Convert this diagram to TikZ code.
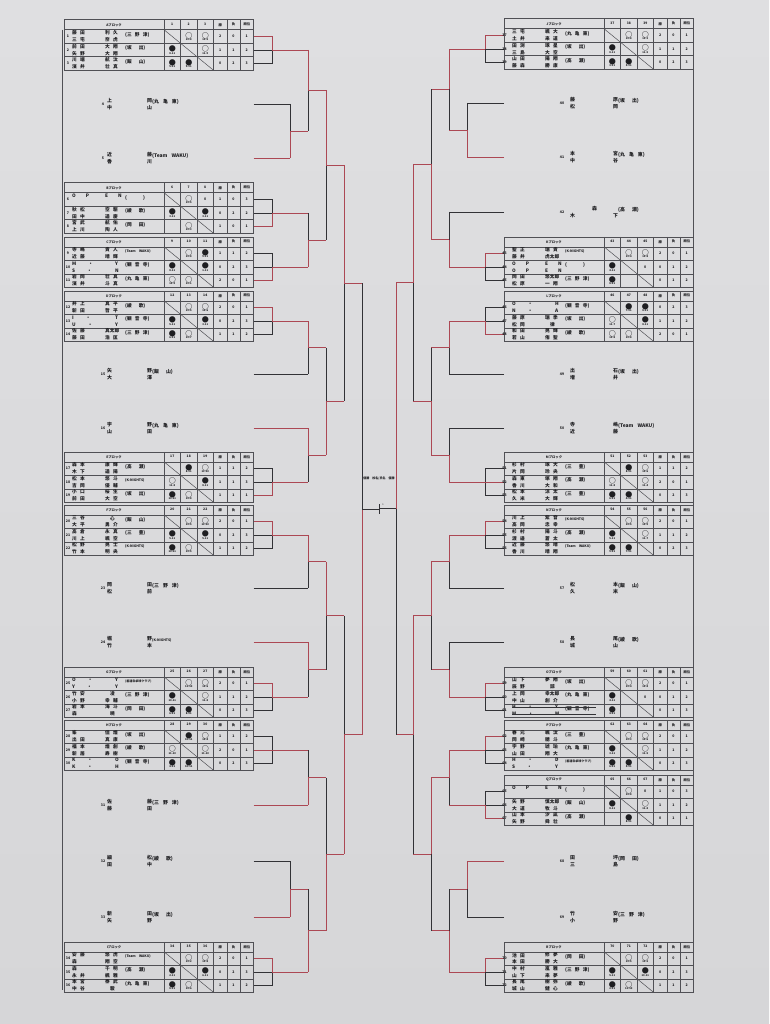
\documentclass[tikz,border=0pt]{standalone}
\usepackage{fontspec}
\setmainfont{Noto Sans CJK JP}
\definecolor{paper}{RGB}{223,223,225}
\definecolor{paperb}{RGB}{214,214,216}
\definecolor{redln}{RGB}{172,72,84}
\definecolor{blkln}{RGB}{50,50,54}
\definecolor{tblln}{RGB}{80,80,85}
\definecolor{txt}{RGB}{30,30,33}
\newcommand\nmfont{\fontsize{4.7}{4.7}\selectfont\bfseries\spaceskip=3.2pt plus 1pt\relax}
\newcommand\entfont{\fontsize{4.9}{4.9}\selectfont\bfseries\spaceskip=4pt plus 1pt\relax}
\newcommand\Wz[1]{{\fontsize{7}{7}\selectfont ○}\\[-0.9pt]{\fontsize{2.6}{2.6}\selectfont #1}}
\newcommand\Lz[1]{{\fontsize{7}{7}\selectfont ●}\\[-0.9pt]{\fontsize{2.6}{2.6}\selectfont #1}}
\newcommand\tw[2]{(#1\hspace{7pt}#2)}
\newcommand\smt[1]{{\fontsize{3.4}{3.4}\selectfont #1}}
\newcommand\numdx{4}
\newcommand\ea{4}
\newcommand\eb{44}
\newcommand\ec{49}
\tikzset{
 rd/.style={draw=redln,line width=0.9pt},
 bk/.style={draw=blkln,line width=0.8pt},
 tbl/.style={draw=tblln,line width=0.5pt},
 hd/.style={inner sep=0,font=\fontsize{3.3}{3.3}\selectfont\bfseries,text=txt},
 nm/.style={inner sep=0,anchor=west,font=\nmfont,text=txt},
 num/.style={inner sep=0,font=\fontsize{3.5}{3.5}\selectfont\bfseries,text=txt},
 cell/.style={inner sep=0,align=center,font=\fontsize{3.5}{3.5}\selectfont\bfseries,text=txt},
 ent/.style={inner sep=0,anchor=west,font=\entfont,text=txt},
}
% block frame: id, x0, line y, title, three column labels
\newcommand\blkframe[7]{%
 \begin{scope}[shift={(#2,#3-30.25)}]
  \draw[tbl] (0,0) rectangle (189.5,50.5);
  \draw[tbl] (0,10) -- (189.5,10) (0,23.5) -- (189.5,23.5) (0,37) -- (189.5,37);
  \foreach \xx in {100,116.5,133,149.5,162.8,176.1} {\draw[tbl] (\xx,0) -- (\xx,50.5);}
  \draw[tbl] (100,10) -- (149.5,50.5);
  \node[hd] (#1h) at (50,5) {#4};
  \node[hd] (#1h1) at (108.25,5) {#5};
  \node[hd] (#1h2) at (124.75,5) {#6};
  \node[hd] (#1h3) at (141.25,5) {#7};
  \node[hd] (#1h4) at (156.15,5) {勝};
  \node[hd] (#1h5) at (169.45,5) {負};
  \node[hd] (#1h6) at (182.8,5) {順位};
 \end{scope}}
% row names: id, x0, yc, num, fam1, giv1, fam2, giv2, team
\newcommand\blkrow[9]{%
 \node[num] (#1n) at (#2+\numdx,#3) {#4};
 \node[nm] (#1a) at (#2+8,#3-3.3) {#5};
 \node[nm] (#1b) at (#2+41,#3-3.3) {#6};
 \node[nm] (#1c) at (#2+8,#3+3.3) {#7};
 \node[nm] (#1d) at (#2+41,#3+3.3) {#8};
 \node[nm] (#1e) at (#2+61,#3-1.8) {#9};}
% row results: id, x0, yc, c1, c2, c3, win, loss, rank
\newcommand\blkres[9]{%
 \node[cell] (#1p) at (#2+108.25,#3) {#4};
 \node[cell] (#1q) at (#2+124.75,#3) {#5};
 \node[cell] (#1r) at (#2+141.25,#3) {#6};
 \node[cell] (#1w) at (#2+156.15,#3) {#7};
 \node[cell] (#1l) at (#2+169.45,#3) {#8};
 \node[cell] (#1k) at (#2+182.8,#3) {#9};}
% single entry: id, xnum, y, num, a-top, a-bot, b-top, b-bot, team
\newcommand\entry[9]{%
 \node[num] (#1n) at (#2,#3) {#4};
 \node[ent] (#1a) at (#2+\ea,#3-3.5) {#5};
 \node[ent] (#1b) at (#2+\ea,#3+3.5) {#6};
 \node[ent] (#1c) at (#2+\eb,#3-3.5) {#7};
 \node[ent] (#1d) at (#2+\eb,#3+3.5) {#8};
 \node[ent] (#1e) at (#2+\ec,#3-2) {#9};}
% block stubs: id, x edge, x vertical, yc, winner row
\newcommand\stub[5]{%
 \coordinate (#1s1) at (#2,#4-13.5); \coordinate (#1s2) at (#2,#4); \coordinate (#1s3) at (#2,#4+13.5);
 \coordinate (#1v1) at (#3,#4-13.5); \coordinate (#1v2) at (#3,#4); \coordinate (#1v3) at (#3,#4+13.5);
 \draw[bk] (#1s1) -- (#1v1) -- (#1v3) -- (#1s3);
 \draw[bk] (#1s2) -- (#1v2);
 \ifnum#5=1 \draw[rd] (#1s1) -- (#1v1) -- (#1v2);\fi
 \ifnum#5=2 \draw[rd] (#1s2) -- (#1v2);\fi
 \ifnum#5=3 \draw[rd] (#1s3) -- (#1v3) -- (#1v2);\fi}
% match: id, x vertical, y top, y bottom, x out, top style, bottom style, out style
\newcommand\mt[8]{%
 \coordinate (#1t) at (#2,#3);
 \coordinate (#1b) at (#2,#4);
 \coordinate (#1m) at (#2,{(#3+#4)/2});
 \coordinate (#1o) at (#5,{(#3+#4)/2});
 \draw[#6] (#1t) -- (#1m);
 \draw[#7] (#1m) -- (#1b);
 \draw[#8] (#1m) -- (#1o);}
\begin{document}
\begin{tikzpicture}[x=1pt,y=-1pt]
\useasboundingbox (0,0) rectangle (769,1024);
\shade[top color=paper,bottom color=paperb] (0,0) rectangle (769,1024);

% ---------------- frame lines
\coordinate (fl1) at (62,30); \coordinate (fl2) at (62,990);
\draw[tbl] (fl1) -- (fl2);
\coordinate (fr1) at (693.5,18.75); \coordinate (fr2) at (693.5,992.25);
\draw[tbl] (fr1) -- (fr2);

% ---------------- left bracket
\mt{m1}{290}{104}{158}{308}{bk}{rd}{rd}
\mt{m2}{308}{50}{131}{326}{rd}{bk}{rd}
\mt{m3}{308}{213}{267}{326}{bk}{rd}{rd}
\mt{m4}{326}{90.5}{240}{344}{rd}{bk}{rd}
\mt{m5}{308}{321}{374}{326}{rd}{bk}{rd}
\mt{m6}{308}{428}{482}{326}{rd}{bk}{rd}
\mt{m7}{326}{347.5}{455}{344}{bk}{rd}{rd}
\mt{m8}{344}{165.25}{401.25}{362}{rd}{bk}{rd}
\mt{m9}{308}{535}{588}{326}{rd}{bk}{rd}
\mt{m10}{308}{642}{697}{326}{rd}{bk}{rd}
\mt{m11}{326}{561.5}{669.5}{344}{rd}{bk}{rd}
\mt{m12}{308}{750}{805}{326}{bk}{rd}{rd}
\mt{m13}{290}{861}{917}{308}{bk}{rd}{rd}
\mt{m14}{308}{889}{972}{326}{bk}{rd}{rd}
\mt{m15}{326}{777.5}{930.5}{344}{bk}{rd}{rd}
\mt{m16}{344}{615.5}{854}{362}{bk}{rd}{rd}
\mt{mL}{362}{283.25}{734.75}{379}{bk}{rd}{bk}

% ---------------- right bracket
\mt{r1}{467}{103}{157}{449}{bk}{rd}{rd}
\mt{r2}{449}{49}{130}{431}{rd}{bk}{rd}
\mt{r3}{449}{212}{267}{431}{bk}{rd}{rd}
\mt{r4}{431}{89.5}{239.5}{413}{bk}{rd}{rd}
\mt{r5}{449}{321}{374}{431}{rd}{bk}{rd}
\mt{r6}{449}{428}{482}{431}{bk}{rd}{rd}
\mt{r7}{431}{347.5}{455}{413}{bk}{rd}{rd}
\mt{r8}{413}{164.5}{401.25}{396}{rd}{bk}{rd}
\mt{r9}{449}{535}{588}{431}{rd}{bk}{rd}
\mt{r10}{449}{642}{697}{431}{bk}{rd}{rd}
\mt{r11}{431}{561.5}{669.5}{413}{rd}{bk}{rd}
\mt{r12}{449}{750}{805}{431}{rd}{bk}{rd}
\mt{r13}{467}{861}{917}{449}{rd}{bk}{rd}
\mt{r14}{449}{889}{972}{431}{bk}{rd}{rd}
\mt{r15}{431}{777.5}{930.5}{413}{rd}{bk}{rd}
\mt{r16}{413}{615.5}{854}{396}{rd}{bk}{rd}
\mt{rR}{396}{282.875}{734.75}{379}{rd}{bk}{bk}

% ---------------- centre
\coordinate (ct1) at (379,504); \coordinate (ct2) at (379,514);
\draw[bk,line width=0.5pt] (ct1) -- (ct2);
\node[hd,font=\fontsize{2.4}{2.4}\selectfont] (ctn) at (383,505) {1};
\node[hd,font=\fontsize{3}{3}\selectfont\bfseries] (ctr) at (379,478) {優勝　校名/氏名　優勝};

% ---------------- left stubs and entry lines
\stub{sA}{253.5}{272}{50}{1}  \draw[rd] (sAv2) -- (m2t);
\stub{sB}{253.5}{272}{213}{3} \draw[rd] (sBv2) -- (m3t);
\stub{sC}{253.5}{272}{267}{3} \draw[rd] (sCv2) -- (m3b);
\stub{sD}{253.5}{272}{321}{1} \draw[rd] (sDv2) -- (m5t);
\stub{sE}{253.5}{272}{482}{3} \draw[rd] (sEv2) -- (m6b);
\stub{sF}{253.5}{272}{535}{1} \draw[rd] (sFv2) -- (m9t);
\stub{sG}{253.5}{272}{697}{1} \draw[rd] (sGv2) -- (m10b);
\stub{sH}{253.5}{272}{750}{2} \draw[rd] (sHv2) -- (m12t);
\stub{sI}{253.5}{272}{972}{1} \draw[rd] (sIv2) -- (m14b);
\coordinate (l4) at (253.5,104);  \draw[bk] (l4) -- (m1t);
\coordinate (l5) at (253.5,158);  \draw[rd] (l5) -- (m1b);
\coordinate (l15) at (253.5,374); \draw[bk] (l15) -- (m5b);
\coordinate (l16) at (253.5,428); \draw[rd] (l16) -- (m6t);
\coordinate (l23) at (253.5,588); \draw[bk] (l23) -- (m9b);
\coordinate (l24) at (253.5,642); \draw[rd] (l24) -- (m10t);
\coordinate (l31) at (253.5,805); \draw[rd] (l31) -- (m12b);
\coordinate (l32) at (253.5,861); \draw[bk] (l32) -- (m13t);
\coordinate (l33) at (253.5,917); \draw[rd] (l33) -- (m13b);

% ---------------- right stubs and entry lines
\stub{sJ}{504}{485}{49}{1}  \draw[rd] (sJv2) -- (r2t);
\stub{sK}{504}{485}{267}{1} \draw[rd] (sKv2) -- (r3b);
\stub{sL}{504}{485}{321}{3} \draw[rd] (sLv2) -- (r5t);
\stub{sM}{504}{485}{482}{2} \draw[rd] (sMv2) -- (r6b);
\stub{sN}{504}{485}{535}{1} \draw[rd] (sNv2) -- (r9t);
\stub{sO}{504}{485}{697}{1} \draw[rd] (sOv2) -- (r10b);
\stub{sP}{504}{485}{750}{1} \draw[rd] (sPv2) -- (r12t);
\stub{sQ}{504}{485}{805}{3} \draw[rd] (sQv2) -- (r12b);
\stub{sR}{504}{485}{972}{1} \draw[rd] (sRv2) -- (r14b);
\coordinate (q40) at (504,103); \draw[bk] (q40) -- (r1t);
\coordinate (q41) at (504,157); \draw[rd] (q41) -- (r1b);
\coordinate (q42) at (504,212); \draw[bk] (q42) -- (r3t);
\coordinate (q49) at (504,374); \draw[bk] (q49) -- (r5b);
\coordinate (q50) at (504,428); \draw[bk] (q50) -- (r6t);
\coordinate (q57) at (504,588); \draw[bk] (q57) -- (r9b);
\coordinate (q58) at (504,642); \draw[bk] (q58) -- (r10t);
\coordinate (q68) at (504,861); \draw[rd] (q68) -- (r13t);
\coordinate (q69) at (504,917); \draw[bk] (q69) -- (r13b);

% ================= LEFT TABLES (x0 = 64)
\blkframe{A}{64}{50}{Aブロック}{1}{2}{3}
\blkrow{A1}{64}{50-13.5}{1}{藤 田}{利 久}{三 宅}{奈 虎}{(三 野 津)}
\blkres{A1}{64}{50-13.5}{}{\Wz{11-8}}{\Wz{11-5}}{2}{0}{1}
\blkrow{A2}{64}{50}{2}{前 田}{大 翔}{矢 野}{大 翔}{\tw{坂}{出}}
\blkres{A2}{64}{50}{\Lz{8-11}}{}{\Wz{11-9}}{1}{1}{2}
\blkrow{A3}{64}{50+13.5}{3}{川 端}{航 汰}{濱 井}{壮 真}{\tw{飯}{山}}
\blkres{A3}{64}{50+13.5}{\Lz{5-11}}{\Lz{9-11}}{}{0}{2}{3}

\entry{t4}{103}{104}{4}{上}{中}{岡}{山}{(丸 亀 東)}
\entry{t5}{103}{158}{5}{近}{香}{藤}{川}{(Team WAKU)}

\blkframe{B}{64}{213}{Bブロック}{6}{7}{8}
\blkrow{B1}{64}{213-13.5}{6}{O\hspace{10pt}P}{E\hspace{10pt}N}{}{}{(\hspace{16pt})}
\blkres{B1}{64}{213-13.5}{}{\Wz{11-5}}{0}{1}{0}{3}
\blkrow{B2}{64}{213}{7}{秋 松}{空 駆}{田 中}{遥 慶}{\tw{綾}{歌}}
\blkres{B2}{64}{213}{\Lz{3-11}}{}{\Lz{3-11}}{0}{2}{2}
\blkrow{B3}{64}{213+13.5}{8}{宮 武}{航 佑}{上 川}{陶 人}{\tw{岡}{田}}
\blkres{B3}{64}{213+13.5}{}{\Wz{11-3}}{}{1}{0}{1}

\blkframe{C}{64}{267}{Cブロック}{9}{10}{11}
\blkrow{C1}{64}{267-13.5}{9}{寺 嶋}{貴 人}{近 藤}{晴 輝}{\smt{(Team WAKU)}}
\blkres{C1}{64}{267-13.5}{}{\Wz{11-8}}{\Lz{9-11}}{1}{1}{2}
\blkrow{C2}{64}{267}{10}{M\hspace{12pt}・}{\hspace{10pt}Y}{S\hspace{12pt}・}{\hspace{10pt}N}{(観 音 寺)}
\blkres{C2}{64}{267}{\Lz{8-11}}{}{\Lz{1-11}}{0}{2}{3}
\blkrow{C3}{64}{267+13.5}{11}{岩 岡}{壮 真}{濱 井}{斗 真}{(丸 亀 東)}
\blkres{C3}{64}{267+13.5}{\Wz{11-9}}{\Wz{11-1}}{}{2}{0}{1}

\blkframe{D}{64}{321}{Dブロック}{12}{13}{14}
\blkrow{D1}{64}{321-13.5}{12}{井 上}{真 平}{新 田}{哲 平}{\tw{綾}{歌}}
\blkres{D1}{64}{321-13.5}{}{\Wz{11-5}}{\Wz{11-6}}{2}{0}{1}
\blkrow{D2}{64}{321}{13}{I\hspace{12pt}・}{\hspace{10pt}T}{U\hspace{12pt}・}{\hspace{10pt}Y}{(観 音 寺)}
\blkres{D2}{64}{321}{\Lz{5-11}}{}{\Lz{3-11}}{0}{2}{3}
\blkrow{D3}{64}{321+13.5}{14}{佐 藤}{真太郎}{藤 田}{浩 匡}{(三 野 津)}
\blkres{D3}{64}{321+13.5}{\Lz{6-11}}{\Wz{11-7}}{}{1}{1}{2}

\entry{t15}{103}{374}{15}{矢}{大}{野}{澤}{\tw{飯}{山}}
\entry{t16}{103}{428}{16}{宇}{山}{野}{田}{(丸 亀 東)}

\blkframe{E}{64}{482}{Eブロック}{17}{18}{19}
\blkrow{E1}{64}{482-13.5}{17}{森 本}{康 輝}{木 下}{遥 陽}{\tw{高}{瀬}}
\blkres{E1}{64}{482-13.5}{}{\Lz{8-11}}{\Wz{11-10}}{1}{1}{2}
\blkrow{E2}{64}{482}{18}{松 本}{悠 斗}{吉 岡}{優 輔}{\smt{(K-NIGHTS)}}
\blkres{E2}{64}{482}{\Wz{11-8}}{}{\Lz{8-11}}{1}{1}{3}
\blkrow{E3}{64}{482+13.5}{19}{小 口}{桜 生}{前 田}{大 空}{\tw{坂}{出}}
\blkres{E3}{64}{482+13.5}{\Lz{10-11}}{\Wz{11-8}}{}{1}{1}{1}

\blkframe{F}{64}{535}{Fブロック}{20}{21}{22}
\blkrow{F1}{64}{535-13.5}{20}{三 谷}{\hspace{5pt}心}{大 平}{勇 介}{\tw{飯}{山}}
\blkres{F1}{64}{535-13.5}{}{\Wz{11-5}}{\Wz{11-10}}{2}{0}{1}
\blkrow{F2}{64}{535}{21}{高 倉}{永 真}{川 上}{颯 空}{\tw{三}{豊}}
\blkres{F2}{64}{535}{\Lz{5-11}}{}{\Lz{5-11}}{0}{2}{3}
\blkrow{F3}{64}{535+13.5}{22}{松 野}{晃 士}{竹 本}{明 央}{\smt{(K-NIGHTS)}}
\blkres{F3}{64}{535+13.5}{\Lz{10-11}}{\Wz{11-5}}{}{1}{1}{2}

\entry{t23}{103}{588}{23}{岡}{松}{田}{前}{(三 野 津)}
\entry{t24}{103}{642}{24}{堀}{竹}{野}{本}{\smt{(K-NIGHTS)}}

\blkframe{G}{64}{697}{Gブロック}{25}{26}{27}
\blkrow{G1}{64}{697-13.5}{25}{O\hspace{12pt}・}{\hspace{10pt}Y}{Y\hspace{12pt}・}{\hspace{10pt}Y}{{\fontsize{3}{3}\selectfont(善通寺卓球クラブ)}}
\blkres{G1}{64}{697-13.5}{}{\Wz{11-10}}{\Wz{11-6}}{2}{0}{1}
\blkrow{G2}{64}{697}{26}{竹 安}{\hspace{5pt}凌}{小 野}{幸 輔}{(三 野 津)}
\blkres{G2}{64}{697}{\Lz{10-11}}{}{\Wz{11-8}}{1}{1}{2}
\blkrow{G3}{64}{697+13.5}{27}{岩 本}{海 斗}{森}{\hspace{5pt}暁}{\tw{岡}{田}}
\blkres{G3}{64}{697+13.5}{\Lz{6-11}}{\Lz{8-11}}{}{0}{2}{3}

\blkframe{H}{64}{750}{Hブロック}{28}{29}{30}
\blkrow{H1}{64}{750-13.5}{28}{峯}{佳 煌}{出 田}{真 康}{\tw{坂}{出}}
\blkres{H1}{64}{750-13.5}{}{\Lz{10-11}}{\Wz{11-4}}{1}{1}{2}
\blkrow{H2}{64}{750}{29}{福 本}{煌 創}{新 居}{寿 樹}{\tw{綾}{歌}}
\blkres{H2}{64}{750}{\Wz{11-10}}{}{\Wz{11-10}}{2}{0}{1}
\blkrow{H3}{64}{750+13.5}{30}{K\hspace{12pt}・}{\hspace{10pt}O}{K\hspace{12pt}・}{\hspace{10pt}H}{(観 音 寺)}
\blkres{H3}{64}{750+13.5}{\Lz{4-11}}{\Lz{10-11}}{}{0}{2}{3}

\entry{t31}{103}{805}{31}{佐}{藤}{藤}{田}{(三 野 津)}
\entry{t32}{103}{861}{32}{細}{田}{松}{中}{\tw{綾}{歌}}
\entry{t33}{103}{917}{33}{新}{矢}{田}{野}{\tw{坂}{出}}

\blkframe{I}{64}{972}{Iブロック}{34}{35}{36}
\blkrow{I1}{64}{972-13.5}{34}{安 藤}{悠 虎}{森}{翔 空}{\smt{(Team WAKU)}}
\blkres{I1}{64}{972-13.5}{}{\Wz{11-2}}{\Wz{11-8}}{2}{0}{1}
\blkrow{I2}{64}{972}{35}{森}{千 明}{永 井}{楓 雅}{\tw{高}{瀬}}
\blkres{I2}{64}{972}{\Lz{2-11}}{}{\Lz{6-11}}{0}{2}{3}
\blkrow{I3}{64}{972+13.5}{36}{本 宮}{泰 武}{中 谷}{\hspace{5pt}駿}{(丸 亀 東)}
\blkres{I3}{64}{972+13.5}{\Lz{8-11}}{\Wz{11-6}}{}{1}{1}{2}

% ================= RIGHT TABLES (x0 = 504)
\renewcommand\numdx{0.5}
\renewcommand\ea{8}
\renewcommand\eb{51}
\renewcommand\ec{56}

\blkframe{J}{504}{49}{Jブロック}{37}{38}{39}
\blkrow{J1}{504}{49-13.5}{37}{三 宅}{颯 大}{土 井}{来 道}{(丸 亀 東)}
\blkres{J1}{504}{49-13.5}{}{\Wz{11-8}}{\Wz{11-3}}{2}{0}{1}
\blkrow{J2}{504}{49}{38}{田 渕}{琢 星}{三 島}{大 空}{\tw{坂}{出}}
\blkres{J2}{504}{49}{\Lz{8-11}}{}{\Wz{11-5}}{1}{1}{2}
\blkrow{J3}{504}{49+13.5}{39}{山 田}{陽 翔}{藤 森}{勝 康}{\tw{高}{瀬}}
\blkres{J3}{504}{49+13.5}{\Lz{3-11}}{\Lz{5-11}}{}{0}{2}{3}

\entry{t40}{562}{103}{40}{藤}{松}{原}{岡}{\tw{坂}{出}}
\entry{t41}{562}{157}{41}{本}{中}{宮}{谷}{(丸 亀 東)}
\entry{t42}{562}{212}{42}{\hspace{22pt}森}{木}{}{下}{\tw{高}{瀬}}

\blkframe{K}{504}{267}{Kブロック}{43}{44}{45}
\blkrow{K1}{504}{267-13.5}{43}{聖 正}{瑞 貴}{藤 井}{虎太郎}{\smt{(K-NIGHTS)}}
\blkres{K1}{504}{267-13.5}{}{\Wz{11-4}}{\Wz{11-8}}{2}{0}{1}
\blkrow{K2}{504}{267}{44}{O\hspace{10pt}P}{E\hspace{10pt}N}{O\hspace{10pt}P}{E\hspace{10pt}N}{(\hspace{16pt})}
\blkres{K2}{504}{267}{\Lz{4-11}}{}{0}{0}{1}{2}
\blkrow{K3}{504}{267+13.5}{45}{岡 田}{悠太郎}{松 原}{一 翔}{(三 野 津)}
\blkres{K3}{504}{267+13.5}{\Lz{8-11}}{}{}{0}{1}{2}

\blkframe{L}{504}{321}{Lブロック}{46}{47}{48}
\blkrow{L1}{504}{321-13.5}{46}{O\hspace{12pt}・}{\hspace{10pt}H}{N\hspace{12pt}・}{\hspace{10pt}A}{(観 音 寺)}
\blkres{L1}{504}{321-13.5}{}{\Lz{7-11}}{\Lz{8-11}}{0}{2}{3}
\blkrow{L2}{504}{321}{47}{藤 原}{瑞 季}{松 岡}{\hspace{5pt}律}{\tw{坂}{出}}
\blkres{L2}{504}{321}{\Wz{11-7}}{}{\Lz{8-11}}{1}{1}{2}
\blkrow{L3}{504}{321+13.5}{48}{和 田}{晃 輝}{若 山}{侑 聖}{\tw{綾}{歌}}
\blkres{L3}{504}{321+13.5}{\Wz{11-8}}{\Wz{11-8}}{}{2}{0}{1}

\entry{t49}{562}{374}{49}{出}{増}{石}{井}{\tw{坂}{出}}
\entry{t50}{562}{428}{50}{寺}{近}{嶋}{藤}{(Team WAKU)}

\blkframe{M}{504}{482}{Mブロック}{51}{52}{53}
\blkrow{M1}{504}{482-13.5}{51}{杉 村}{琢 大}{片 岡}{玲 央}{\tw{三}{豊}}
\blkres{M1}{504}{482-13.5}{}{\Lz{8-11}}{\Wz{11-6}}{1}{1}{2}
\blkrow{M2}{504}{482}{52}{森 東}{塚 翔}{香 川}{大 和}{\tw{高}{瀬}}
\blkres{M2}{504}{482}{\Wz{11-8}}{}{\Wz{11-4}}{2}{0}{1}
\blkrow{M3}{504}{482+13.5}{53}{松 本}{涼 太}{久 米}{大 輝}{\tw{三}{豊}}
\blkres{M3}{504}{482+13.5}{\Lz{6-11}}{\Lz{4-11}}{}{0}{2}{3}

\blkframe{N}{504}{535}{Nブロック}{54}{55}{56}
\blkrow{N1}{504}{535-13.5}{54}{川 上}{紫 音}{高 岡}{忠 幸}{\smt{(K-NIGHTS)}}
\blkres{N1}{504}{535-13.5}{}{\Wz{11-5}}{\Wz{11-9}}{2}{0}{1}
\blkrow{N2}{504}{535}{55}{杉 村}{陽 斗}{渡 邉}{蒼 太}{\tw{高}{瀬}}
\blkres{N2}{504}{535}{\Lz{5-11}}{}{\Wz{11-7}}{1}{1}{2}
\blkrow{N3}{504}{535+13.5}{56}{近 藤}{悠 晴}{香 川}{晴 翔}{\smt{(Team WAKU)}}
\blkres{N3}{504}{535+13.5}{\Lz{9-11}}{\Lz{7-11}}{}{0}{2}{3}

\entry{t57}{562}{588}{57}{松}{久}{本}{米}{\tw{飯}{山}}
\entry{t58}{562}{642}{58}{長}{城}{尾}{山}{\tw{綾}{歌}}

\blkframe{O}{504}{697}{Oブロック}{59}{60}{61}
\blkrow{O1}{504}{697-13.5}{59}{山 下}{夢 翔}{辰 野}{\hspace{5pt}諒}{\tw{坂}{出}}
\blkres{O1}{504}{697-13.5}{}{\Wz{11-4}}{\Wz{11-4}}{2}{0}{1}
\blkrow{O2}{504}{697}{60}{上 岡}{幸太郎}{中 山}{創 介}{(丸 亀 東)}
\blkres{O2}{504}{697}{\Lz{4-11}}{}{0}{0}{1}{2}
\blkrow{O3}{504}{697+13.5}{61}{H\hspace{12pt}・}{\hspace{10pt}Y}{M\hspace{12pt}・}{\hspace{10pt}M}{(観 音 寺)}
\blkres{O3}{504}{697+13.5}{\Lz{4-11}}{}{}{0}{1}{3}
\draw[bk,line width=0.4pt] (O3a.west) -- ++(84,0);
\draw[bk,line width=0.4pt] (O3c.west) -- ++(84,0);

\blkframe{P}{504}{750}{Pブロック}{62}{63}{64}
\blkrow{P1}{504}{750-13.5}{62}{春 元}{颯 汰}{岡 崎}{穂 斗}{\tw{三}{豊}}
\blkres{P1}{504}{750-13.5}{}{\Wz{11-3}}{\Wz{11-6}}{2}{0}{1}
\blkrow{P2}{504}{750}{63}{宇 野}{琥 珀}{山 田}{翔 大}{(丸 亀 東)}
\blkres{P2}{504}{750}{\Lz{3-11}}{}{\Wz{11-5}}{1}{1}{2}
\blkrow{P3}{504}{750+13.5}{64}{H\hspace{12pt}・}{\hspace{10pt}D}{S\hspace{12pt}・}{\hspace{10pt}Y}{{\fontsize{3}{3}\selectfont(善通寺卓球クラブ)}}
\blkres{P3}{504}{750+13.5}{\Lz{6-11}}{\Lz{5-11}}{}{0}{2}{3}

\blkframe{Q}{504}{805}{Qブロック}{65}{66}{67}
\blkrow{Q1}{504}{805-13.5}{65}{O\hspace{10pt}P}{E\hspace{10pt}N}{}{}{(\hspace{16pt})}
\blkres{Q1}{504}{805-13.5}{}{\Wz{11-8}}{0}{1}{0}{3}
\blkrow{Q2}{504}{805}{66}{矢 野}{慎太郎}{大 道}{牧 斗}{\tw{飯}{山}}
\blkres{Q2}{504}{805}{\Lz{8-11}}{}{\Wz{11-8}}{1}{1}{2}
\blkrow{Q3}{504}{805+13.5}{67}{山 本}{汐 凪}{矢 野}{舜 壮}{\tw{高}{瀬}}
\blkres{Q3}{504}{805+13.5}{}{\Lz{8-11}}{}{0}{1}{1}

\entry{t68}{562}{861}{68}{田}{三}{坪}{島}{\tw{岡}{田}}
\entry{t69}{562}{917}{69}{竹}{小}{安}{野}{(三 野 津)}

\blkframe{R}{504}{972}{Rブロック}{70}{71}{72}
\blkrow{R1}{504}{972-13.5}{70}{池 田}{修 夢}{本 田}{勝 大}{\tw{岡}{田}}
\blkres{R1}{504}{972-13.5}{}{\Wz{11-5}}{\Wz{11-2}}{2}{0}{1}
\blkrow{R2}{504}{972}{71}{中 村}{嵐 雅}{山 下}{来 夢}{(三 野 津)}
\blkres{R2}{504}{972}{\Lz{5-11}}{}{\Lz{10-11}}{0}{2}{3}
\blkrow{R3}{504}{972+13.5}{72}{長 尾}{樹 弥}{城 山}{健 心}{\tw{綾}{歌}}
\blkres{R3}{504}{972+13.5}{\Lz{2-11}}{\Wz{11-10}}{}{1}{1}{2}
\end{tikzpicture}
\end{document}
